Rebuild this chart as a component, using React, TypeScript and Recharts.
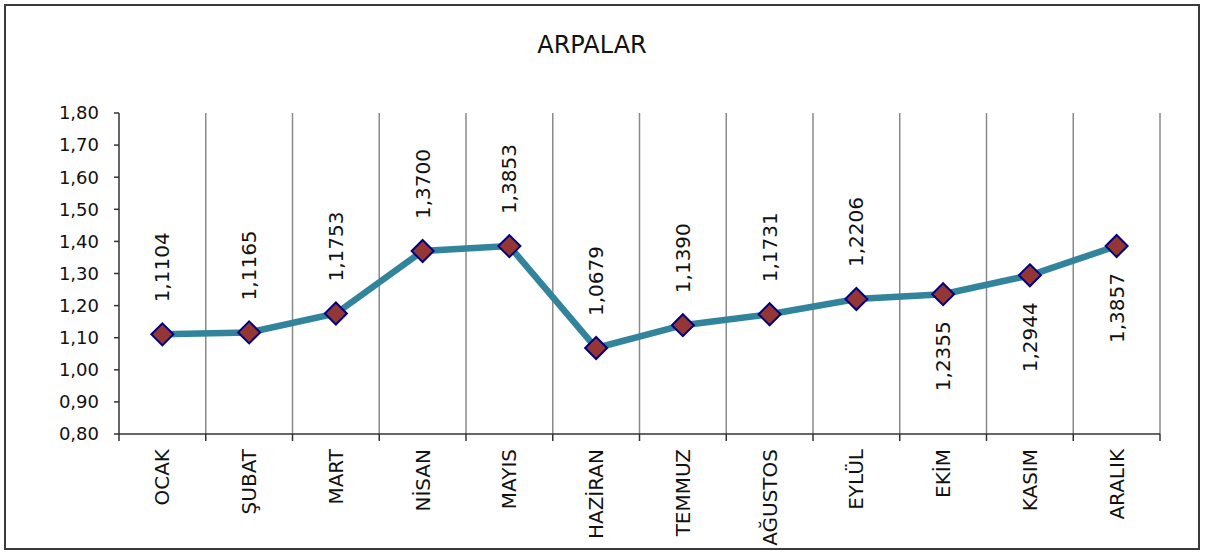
import { LineChart, Line, XAxis, YAxis, ReferenceLine, LabelList } from "recharts";

const MONTHS = ["OCAK", "ŞUBAT", "MART", "NİSAN", "MAYIS", "HAZİRAN", "TEMMUZ", "AĞUSTOS", "EYLÜL", "EKİM", "KASIM", "ARALIK"];
const PRICES = [1.1104, 1.1165, 1.1753, 1.37, 1.3853, 1.0679, 1.139, 1.1731, 1.2206, 1.2355, 1.2944, 1.3857];
const Y_TICKS = [0.8, 0.9, 1.0, 1.1, 1.2, 1.3, 1.4, 1.5, 1.6, 1.7, 1.8];
// labels drawn under the point instead of above
const BELOW = ["EKİM", "KASIM", "ARALIK"];

const data = MONTHS.map((m, i) => ({ pos: i + 0.5, month: m, value: PRICES[i] }));
const boundaries = MONTHS.map((_, i) => i + 1);
const xTicks = [0, ...boundaries, ...data.map((d) => d.pos)];

const FONT = "'DejaVu Sans', sans-serif";
const fmt = (v: number, d: number) => v.toFixed(d).replace(".", ",");

const Diamond = (props: any) => {
  const { cx, cy } = props;
  if (cx == null || cy == null) return null;
  const r = 11;
  return (
    <polygon
      points={`${cx},${cy - r} ${cx + r},${cy} ${cx},${cy + r} ${cx - r},${cy}`}
      fill="#943634"
      stroke="#000080"
      strokeWidth={2}
    />
  );
};

const ValueLabel = (props: any) => {
  const { x, y, value, index } = props;
  const below = BELOW.includes(MONTHS[index]);
  const ty = below ? y + 27 : y - 32;
  return (
    <text
      x={x}
      y={ty}
      transform={`rotate(-90, ${x}, ${ty})`}
      textAnchor={below ? "end" : "start"}
      dominantBaseline="central"
      fontSize={20}
      fill="#111"
      fontFamily={FONT}
    >
      {fmt(value, 4)}
    </text>
  );
};

const MonthTick = (props: any) => {
  const { x, y, payload } = props;
  const v = payload.value;
  if (Number.isInteger(v)) {
    return <line x1={x} y1={y} x2={x} y2={y + 7} stroke="#333" strokeWidth={1.5} />;
  }
  const ty = y + 15;
  return (
    <text
      x={x}
      y={ty}
      transform={`rotate(-90, ${x}, ${ty})`}
      textAnchor="end"
      dominantBaseline="central"
      fontSize={20}
      fill="#111"
      fontFamily={FONT}
    >
      {MONTHS[Math.floor(v)]}
    </text>
  );
};

export default function App() {
  return (
    <div style={{ position: "absolute", left: 0, top: 0, width: 1206, height: 552, background: "#fff", fontFamily: FONT }}>
      <div
        style={{
          position: "absolute",
          left: 4,
          top: 4,
          width: 1196,
          height: 546,
          border: "2px solid #3a3a3a",
          boxSizing: "border-box",
        }}
      />
      <div
        style={{
          position: "absolute",
          left: 0,
          top: 31,
          width: 1184,
          textAlign: "center",
          fontSize: 24,
          color: "#111",
        }}
      >
        ARPALAR
      </div>
      <div style={{ position: "absolute", left: 0, top: 0 }}>
        <LineChart width={1206} height={552} data={data} margin={{ top: 113, right: 46, bottom: 0, left: 59 }}>
          <XAxis
            dataKey="pos"
            type="number"
            domain={[0, 12]}
            ticks={xTicks}
            interval={0}
            tick={<MonthTick />}
            tickLine={false}
            tickSize={0}
            tickMargin={0}
            height={118}
            axisLine={{ stroke: "#333", strokeWidth: 1.5 }}
          />
          <YAxis
            type="number"
            domain={[0.8, 1.8]}
            ticks={Y_TICKS}
            interval={0}
            width={60}
            tickFormatter={(v: number) => fmt(v, 2)}
            tick={{ fontSize: 18, fill: "#111", fontFamily: FONT }}
            tickSize={5}
            tickMargin={15}
            tickLine={{ stroke: "#333", strokeWidth: 1.5 }}
            axisLine={{ stroke: "#333", strokeWidth: 1.5 }}
          />
          {boundaries.map((b) => (
            <ReferenceLine key={b} x={b} stroke="#8a8a8a" strokeWidth={1.5} />
          ))}
          <Line
            type="linear"
            dataKey="value"
            stroke="#31849B"
            strokeWidth={6.5}
            dot={<Diamond />}
            activeDot={false}
            isAnimationActive={false}
          >
            <LabelList dataKey="value" content={<ValueLabel />} />
          </Line>
        </LineChart>
      </div>
    </div>
  );
}
